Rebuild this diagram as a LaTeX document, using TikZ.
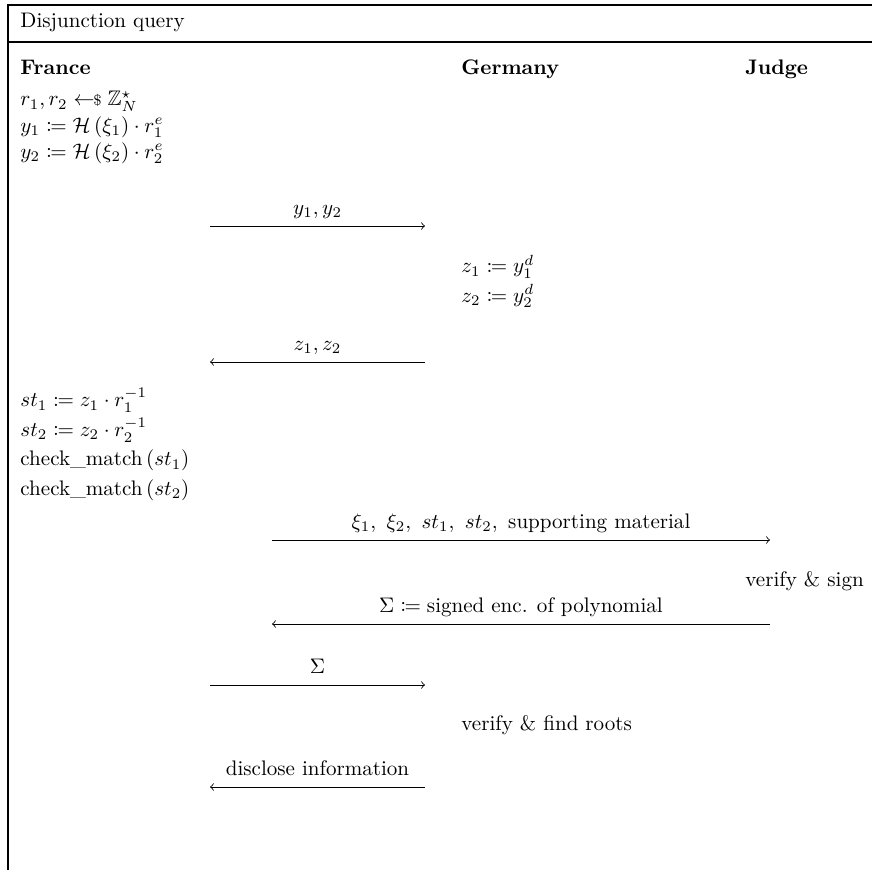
\documentclass[tikz,border=0pt]{standalone}
\usepackage{amsmath}
\usepackage{amssymb}
\usepackage{mathtools}
\usetikzlibrary{positioning, arrows}

\newcommand{\sampleof}{\mathrel{\leftarrow\!\!{\scriptstyle\$}}}

\begin{document}
\begin{tikzpicture}[x=0.475pt,y=-0.475pt,node distance=12.5pt,on grid,
    every node/.style={inner sep=0pt,text height=1.6ex,text depth=0.5ex},
    line/.style={anchor=west},
    party/.style={anchor=west,font=\bfseries},
    msg/.style={above=3pt}]
  \useasboundingbox (0,0) rectangle (872,870);
  \draw[line width=0.6pt] (8,870) -- (8,5) -- (872,5);
  \draw[line width=0.6pt] (8,42) -- (872,42);
  \node[line] (title) at (20,23) {Disjunction query};

  \node[party] (fr) at (20,70) {France};
  \node[party] (ge) at (461,70) {Germany};
  \node[party] (ju) at (745,70) {Judge};

  % France, first step
  \node[line] (r) at (20,101) {$r_1, r_2 \sampleof \mathbb{Z}_N^\star$};
  \node (y_1) [below =of r.west, line] {$y_1 \coloneqq \mathcal{H}\left(\xi_1\right) \cdot r_1^e$};
  \node (y_2) [below =of y_1.west, line] {$y_2 \coloneqq \mathcal{H}\left(\xi_2\right) \cdot r_2^e$};

  % Germany
  \node[line] (z_1) at (461,268) {$z_1 \coloneqq y_1^d$};
  \node (z_2) [below =14pt of z_1.west, line] {$z_2 \coloneqq y_2^d$};

  % France, second step
  \node[line] (st_1) at (20,402) {$st_1 \coloneqq z_1 \cdot r_1^{-1}$};
  \node (st_2) [below =14pt of st_1.west, line] {$st_2 \coloneqq z_2 \cdot r_2^{-1}$};
  \node (cm_1) [below =14pt of st_2.west, line] {$\text{check\_match}\left(st_1\right)$};
  \node (cm_2) [below =14pt of cm_1.west, line] {$\text{check\_match}\left(st_2\right)$};

  \node[line] (vs) at (745,582) {verify \& sign};
  \node[line] (vf) at (461,726) {verify \& find roots};

  \coordinate (m_1a) at (210,226);  \coordinate (m_1b) at (425,226);
  \coordinate (m_2a) at (425,362);  \coordinate (m_2b) at (210,362);
  \coordinate (m_3a) at (272,540);  \coordinate (m_3b) at (770,540);
  \coordinate (m_4a) at (770,624);  \coordinate (m_4b) at (272,624);
  \coordinate (m_5a) at (210,685);  \coordinate (m_5b) at (425,685);
  \coordinate (m_6a) at (425,787);  \coordinate (m_6b) at (210,787);

  \path[->]
  (m_1a) edge node[msg] {$y_1, y_2$} (m_1b)
  (m_2a) edge node[msg] {$z_1, z_2$} (m_2b)
  (m_3a) edge node[msg] {$\xi_1,\ \xi_2,\ st_1,\ st_2,\ \text{supporting material}$} (m_3b)
  (m_4a) edge node[msg] {$\Sigma \coloneqq \text{signed enc. of polynomial}$} (m_4b)
  (m_5a) edge node[msg] {$\Sigma$} (m_5b)
  (m_6a) edge node[msg] {disclose information} (m_6b)
  ;
\end{tikzpicture}
\end{document}
